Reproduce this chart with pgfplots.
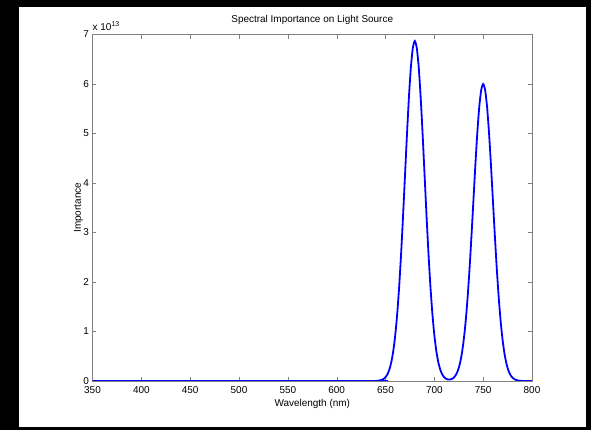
\documentclass[border=0pt]{standalone}
\usepackage{fontspec}
\setmainfont{Liberation Sans}
\usepackage{pgfplots}
\pgfplotsset{compat=1.18}

\begin{document}
\begin{tikzpicture}
% black frame and white figure area (axis box lower-left at origin)
\fill[black] (-92.5bp,-49bp) rectangle (498.5bp,381bp);
\fill[white] (-73.5bp,-46bp) rectangle (493.5bp,374bp);
\begin{axis}[
    at={(0,0)}, anchor=south west,
    scale only axis,
    width=439.5bp, height=346.5bp,
    xmin=350, xmax=800,
    ymin=0, ymax=7,
    xtick={350,400,...,800},
    ytick={0,1,...,7},
    tick align=inside,
    major tick length=4bp,
    axis line style={gray},
    tick style={gray},
    font=\fontsize{10}{12}\selectfont,
    /pgf/number format/assume math mode=true,
    xticklabel style={anchor=base, yshift=-12bp},
    title={Spectral Importance on Light Source},
    title style={at={(axis description cs:0.5,1.0188)}, anchor=base},
    xlabel={Wavelength (nm)},
    xlabel style={at={(axis description cs:0.5,-0.075)}, anchor=base},
    ylabel={Importance},
    ylabel style={at={(axis description cs:-0.0262,0.5)}, anchor=base},
]
\addplot[color=blue, line width=1.8bp, smooth, tension=0.4] coordinates {
(350,0) (638,0)
(640,0.002) (642,0.005) (644,0.011) (646,0.021) (648,0.041)
(650,0.076) (652,0.136) (654,0.234) (656,0.385) (658,0.611)
(660,0.930) (662,1.360) (664,1.910) (666,2.578) (668,3.344)
(670,4.167) (672,4.988) (674,5.739) (676,6.342) (678,6.734)
(680,6.870) (682,6.734) (684,6.342) (686,5.739) (688,4.988)
(690,4.167) (692,3.344) (694,2.578) (696,1.910) (698,1.360)
(700,0.930) (702,0.611) (704,0.385) (706,0.234) (708,0.137)
(710,0.078) (712,0.045) (714,0.030) (716,0.030) (718,0.041)
(720,0.069) (722,0.120) (724,0.204) (726,0.337) (728,0.533)
(730,0.812) (732,1.187) (734,1.668) (736,2.252) (738,2.921)
(740,3.639) (742,4.357) (744,5.012) (746,5.539) (748,5.881)
(750,6.000) (752,5.881) (754,5.539) (756,5.012) (758,4.357)
(760,3.639) (762,2.921) (764,2.252) (766,1.668) (768,1.187)
(770,0.812) (772,0.533) (774,0.337) (776,0.204) (778,0.119)
(780,0.067) (782,0.036) (784,0.019) (786,0.009) (788,0.004)
(790,0.002) (792,0) (800,0)
};
\end{axis}
\node[anchor=base west, inner sep=0pt, yshift=4bp, font=\fontsize{10}{12}\selectfont]
    at (current axis.north west) {x 10\textsuperscript{13}};
\end{tikzpicture}
\end{document}
